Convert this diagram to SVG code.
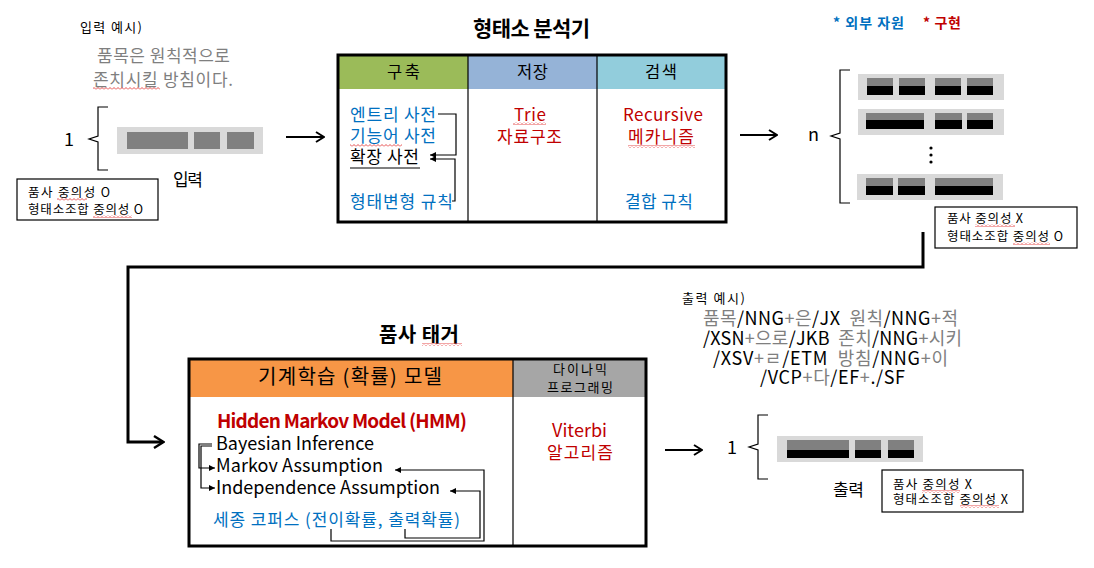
<svg xmlns="http://www.w3.org/2000/svg" width="1094" height="568" viewBox="0 0 1094 568">
<style>
text { font-family: "Noto Sans CJK KR", "Noto Sans", sans-serif; fill: #000; }
.g { fill: #7f7f7f; }
.b { fill: #0070C0; }
.r { fill: #C00000; }
.bold { font-weight: bold; }
.pre { white-space: pre; }
.ln { fill: none; stroke: #000; stroke-width: 1.2; }
.box { fill: #fff; stroke: #000; stroke-width: 1.2; }
.lt { fill: #D9D9D9; }
.dk { fill: #808080; }
.bk { fill: #000; }
.wv { fill: url(#wave); }
</style>
<defs>
<pattern id="wave" x="0" y="0" width="4" height="3" patternUnits="userSpaceOnUse">
<path d="M0,2.5 L2,0.5 L4,2.5" fill="none" stroke="#E02020" stroke-width="0.8"/>
</pattern>
<marker id="chev" viewBox="0 0 10 12" refX="9" refY="6" markerWidth="10" markerHeight="12" markerUnits="userSpaceOnUse" orient="auto">
<path d="M1,1 L9,6 L1,11" fill="none" stroke="#000" stroke-width="2"/>
</marker>
<marker id="chevB" viewBox="0 0 12 14" refX="10" refY="7" markerWidth="12" markerHeight="14" markerUnits="userSpaceOnUse" orient="auto">
<path d="M1,1 L10.5,7 L1,13" fill="none" stroke="#000" stroke-width="2.4"/>
</marker>
<marker id="tri" viewBox="0 0 6 6" refX="6" refY="3" markerWidth="6" markerHeight="6" markerUnits="userSpaceOnUse" orient="auto">
<path d="M0,0 L6,3 L0,6z" fill="#000"/>
</marker>
</defs>
<rect width="1094" height="568" fill="#fff"/>

<!-- Input example -->
<g id="input-example">
<text x="80" y="32" font-size="13" textLength="62">입력 예시)</text>
<text x="97" y="62" font-size="17" class="g" textLength="133">품목은 원칙적으로</text>
<text x="93" y="86" font-size="17" class="g" textLength="140">존치시킬 방침이다.</text>
<rect x="93" y="87" width="67" height="3" class="wv"/>
</g>

<!-- Input -->
<g id="input">
<text x="64" y="146" font-size="18">1</text>
<path class="ln" d="M108,107 H98 V136 L89,139 L98,142 V170 H108"/>
<rect x="117" y="127" width="146" height="27" class="lt"/>
<rect x="127" y="132" width="61" height="17" class="dk"/>
<rect x="194" y="132" width="26" height="17" class="dk"/>
<rect x="227" y="132" width="27" height="17" class="dk"/>
<text x="173" y="186" font-size="17" textLength="30">입력</text>
</g>

<g id="input-ambiguity">
<rect x="17" y="179" width="141" height="41" class="box"/>
<text x="28" y="197" font-size="12.5" textLength="82">품사 중의성 O</text>
<text x="28" y="214" font-size="12.5" textLength="115">형태소조합 중의성 O</text>
<rect x="57" y="198" width="30" height="3" class="wv"/>
<rect x="93" y="215" width="39" height="3" class="wv"/>
</g>

<!-- Morphological analyzer -->
<g id="analyzer">
<text x="473" y="36" font-size="21" class="bold" textLength="117">형태소 분석기</text>
<rect x="338" y="55" width="130" height="34" fill="#9BBB59"/>
<rect x="468" y="55" width="129" height="34" fill="#95B3D7"/>
<rect x="597" y="55" width="129" height="34" fill="#92CDDC"/>
<rect x="338" y="55" width="388" height="167" fill="none" stroke="#000" stroke-width="3"/>
<line x1="468" y1="55" x2="468" y2="222" stroke="#000" stroke-width="1.2"/>
<line x1="597" y1="55" x2="597" y2="222" stroke="#000" stroke-width="1.2"/>
<text x="387" y="78" font-size="16.5" textLength="33">구축</text>
<text x="517" y="78" font-size="16.5" textLength="31">저장</text>
<text x="645" y="78" font-size="16.5" textLength="32">검색</text>

<text x="350" y="121" font-size="17" class="b" textLength="86">엔트리 사전</text>
<text x="350" y="142" font-size="17" class="b" textLength="86">기능어 사전</text>
<rect x="350" y="144" width="52" height="3" class="wv"/>
<text x="350" y="163" font-size="17" textLength="69">확장 사전</text>
<line x1="350" y1="168" x2="420" y2="168" stroke="#000" stroke-width="1"/>
<text x="350" y="208" font-size="17" class="b" textLength="103">형태변형 규칙</text>
<path class="ln" d="M438,114 H456 V155 H430" marker-end="url(#tri)"/>
<path class="ln" d="M452,201 H455 V159 H430" marker-end="url(#tri)"/>

<text x="514" y="121" font-size="17" class="r" textLength="32">Trie</text>
<rect x="513" y="122" width="33" height="3" class="wv"/>
<text x="497" y="143" font-size="17" class="r" textLength="65">자료구조</text>

<text x="623" y="121" font-size="17" class="r" textLength="80">Recursive</text>
<text x="628" y="143" font-size="17" class="r" textLength="66">메카니즘</text>
<rect x="628" y="145" width="67" height="3" class="wv"/>
<text x="625" y="208" font-size="17" class="b" textLength="68">결합 규칙</text>
</g>

<!-- Legend -->
<g id="legend">
<text x="833" y="28" font-size="14" class="b bold" textLength="71">* 외부 자원</text>
<text x="923" y="28" font-size="14" class="r bold" textLength="38">* 구현</text>
</g>

<!-- Candidates -->
<g id="candidates">
<text x="808" y="141" font-size="18">n</text>
<path class="ln" d="M850,70 H840 V133 L831,136 L840,139 V203 H850"/>
<rect x="858" y="74" width="146" height="26" class="lt"/>
<rect x="867" y="78" width="26" height="8" class="dk"/><rect x="867" y="86" width="26" height="9" class="bk"/>
<rect x="899" y="78" width="26" height="8" class="dk"/><rect x="899" y="86" width="26" height="9" class="bk"/>
<rect x="935" y="78" width="26" height="8" class="dk"/><rect x="935" y="86" width="26" height="9" class="bk"/>
<rect x="967" y="78" width="26" height="8" class="dk"/><rect x="967" y="86" width="26" height="9" class="bk"/>

<rect x="858" y="109" width="146" height="26" class="lt"/>
<rect x="866" y="113" width="58" height="7" class="dk"/><rect x="866" y="120" width="58" height="9" class="bk"/>
<rect x="935" y="113" width="27" height="7" class="dk"/><rect x="935" y="120" width="27" height="9" class="bk"/>
<rect x="967" y="113" width="26" height="7" class="dk"/><rect x="967" y="120" width="26" height="9" class="bk"/>

<circle cx="931" cy="148" r="1.6" class="bk"/>
<circle cx="931" cy="155" r="1.6" class="bk"/>
<circle cx="931" cy="162" r="1.6" class="bk"/>

<rect x="857" y="174" width="146" height="26" class="lt"/>
<rect x="866" y="178" width="27" height="8" class="dk"/><rect x="866" y="186" width="27" height="9" class="bk"/>
<rect x="898" y="178" width="27" height="8" class="dk"/><rect x="898" y="186" width="27" height="9" class="bk"/>
<rect x="935" y="178" width="58" height="8" class="dk"/><rect x="935" y="186" width="58" height="9" class="bk"/>
</g>

<g id="candidates-ambiguity">
<rect x="935" y="207" width="142" height="41" class="box"/>
<text x="947" y="223" font-size="12.5" textLength="76">품사 중의성 X</text>
<text x="947" y="241" font-size="12.5" textLength="116">형태소조합 중의성 O</text>
<rect x="975" y="224" width="40" height="3" class="wv"/>
<rect x="1013" y="242" width="37" height="3" class="wv"/>
</g>

<!-- POS tagger -->
<g id="pos-tagger">
<text x="379" y="342" font-size="20" class="bold" textLength="80">품사 태거</text>
<rect x="422" y="343" width="40" height="3" class="wv"/>
<rect x="189" y="359" width="324" height="38" fill="#F79646"/>
<rect x="513" y="359" width="133" height="38" fill="#A6A6A6"/>
<rect x="189" y="359" width="457" height="187" fill="none" stroke="#000" stroke-width="3"/>
<line x1="513" y1="359" x2="513" y2="546" stroke="#000" stroke-width="1.2"/>
<text x="258" y="384" font-size="20" textLength="184">기계학습 (확률) 모델</text>
<text x="553" y="374" font-size="13" textLength="54">다이나믹</text>
<text x="547" y="392" font-size="13" textLength="66">프로그래밍</text>

<text x="217" y="428" font-size="19" class="r bold" textLength="250">Hidden Markov Model (HMM)</text>
<text x="216" y="450" font-size="18" textLength="158">Bayesian Inference</text>
<text x="216" y="472" font-size="18" textLength="167">Markov Assumption</text>
<text x="216" y="494" font-size="18" textLength="224">Independence Assumption</text>
<text x="213" y="526" font-size="17" class="b" textLength="247">세종 코퍼스 (전이확률, 출력확률)</text>
<path class="ln" d="M212,444 H199 V468 H215" marker-end="url(#tri)"/>
<path class="ln" d="M212,446 H201 V488 H215" marker-end="url(#tri)"/>
<path class="ln" d="M331,529 V541 H484 V470 H395" marker-end="url(#tri)"/>
<path class="ln" d="M405,529 V538 H480 V491 H450" marker-end="url(#tri)"/>

<text x="552" y="437" font-size="18" class="r" textLength="55">Viterbi</text>
<text x="547" y="459" font-size="17" class="r" textLength="66">알고리즘</text>
</g>

<!-- Output example -->
<g id="output-example">
<text x="682" y="303" font-size="13" textLength="63">출력 예시)</text>
<text x="703" y="325" font-size="18" class="pre" textLength="255"><tspan class="g">품목</tspan>/NNG<tspan class="g">+은</tspan>/JX  <tspan class="g">원칙</tspan>/NNG<tspan class="g">+적</tspan></text>
<text x="703" y="345" font-size="18" class="pre" textLength="259">/XSN<tspan class="g">+으로</tspan>/JKB  <tspan class="g">존치</tspan>/NNG<tspan class="g">+시키</tspan></text>
<text x="713" y="365" font-size="18" class="pre" textLength="235">/XSV<tspan class="g">+ㄹ</tspan>/ETM  <tspan class="g">방침</tspan>/NNG<tspan class="g">+이</tspan></text>
<text x="760" y="384" font-size="18" class="pre" textLength="145">/VCP<tspan class="g">+다</tspan>/EF<tspan class="g">+</tspan>./SF</text>
</g>

<!-- Output -->
<g id="output">
<text x="727" y="454" font-size="18">1</text>
<path class="ln" d="M768,415 H758 V444 L749,447 L758,450 V479 H768"/>
<rect x="777" y="436" width="146" height="26" class="lt"/>
<rect x="787" y="440" width="62" height="10" class="dk"/><rect x="787" y="450" width="62" height="8" class="bk"/>
<rect x="855" y="440" width="26" height="10" class="dk"/><rect x="855" y="450" width="26" height="8" class="bk"/>
<rect x="888" y="440" width="26" height="10" class="dk"/><rect x="888" y="450" width="26" height="8" class="bk"/>
<text x="833" y="496" font-size="17" textLength="31">출력</text>
</g>

<g id="output-ambiguity">
<rect x="882" y="470" width="141" height="42" class="box"/>
<text x="893" y="489" font-size="12.5" textLength="79">품사 중의성 X</text>
<text x="893" y="504" font-size="12.5" textLength="115">형태소조합 중의성 X</text>
<rect x="922" y="490" width="38" height="3" class="wv"/>
<rect x="960" y="505" width="39" height="3" class="wv"/>
</g>

<!-- Connectors -->
<g id="connectors" fill="none" stroke="#000">
<line x1="286" y1="137" x2="324" y2="137" stroke-width="2" marker-end="url(#chev)"/>
<line x1="740" y1="135" x2="777" y2="135" stroke-width="2" marker-end="url(#chev)"/>
<path d="M923,232 V267 H128 V442 H163" stroke-width="3" marker-end="url(#chevB)"/>
<line x1="665" y1="450" x2="702" y2="450" stroke-width="2" marker-end="url(#chev)"/>
</g>
</svg>
